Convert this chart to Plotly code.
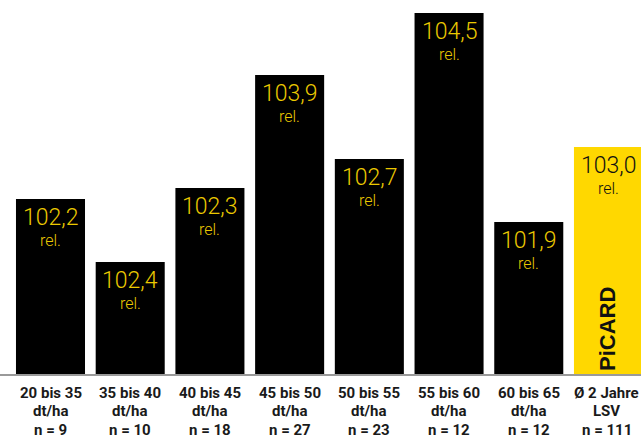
import plotly.graph_objects as go

range_labels = ["20 bis 35", "35 bis 40", "40 bis 45", "45 bis 50",
                "50 bis 55", "55 bis 60", "60 bis 65", "Ø 2 Jahre"]
unit_labels = ["dt/ha", "dt/ha", "dt/ha", "dt/ha", "dt/ha", "dt/ha", "dt/ha", "LSV"]
n_labels = ["n = 9", "n = 10", "n = 18", "n = 27", "n = 23", "n = 12", "n = 12", "n = 111"]
bar_heights = [175, 112, 186, 299, 215, 361, 152, 227]
value_labels = ["102,2", "102,4", "102,3", "103,9", "102,7", "104,5", "101,9", "103,0"]
unit_label = "rel."
brand_label = "PiCARD"

BLACK = "#000000"
YELLOW = "#FFD800"
TEXT_YELLOW = "#EBC900"
colors = [BLACK] * 7 + [YELLOW]
text_colors = [TEXT_YELLOW] * 7 + ["#111111"]

xs = list(range(len(range_labels)))
FONT = "Roboto, Liberation Sans, sans-serif"

fig = go.Figure(go.Bar(x=xs, y=bar_heights, marker=dict(color=colors, line=dict(width=0)),
                       width=0.866, hoverinfo="skip"))

for i, (h, v) in enumerate(zip(bar_heights, value_labels)):
    fig.add_annotation(x=i, y=h, xref="x", yref="y", text=v, showarrow=False,
                       yanchor="middle", yshift=-18.5,
                       font=dict(family=FONT, size=23, weight=300, color=text_colors[i]))
    fig.add_annotation(x=i, y=h, xref="x", yref="y", text=unit_label, showarrow=False,
                       yanchor="middle", yshift=-41,
                       font=dict(family=FONT, size=16, weight=300, color=text_colors[i]))
    for line, shift in ((range_labels[i], -18.5), (unit_labels[i], -37), (n_labels[i], -55.5)):
        fig.add_annotation(x=i, y=0, xref="x", yref="paper", text="<b>" + line + "</b>",
                           showarrow=False, yanchor="middle", yshift=shift,
                           xshift=(-1.5 if i == 7 else 0),
                           font=dict(family=FONT, size=15, color="#1a1a1a"))

fig.add_annotation(x=7, y=0, xref="x", yref="y", text=brand_label,
                   showarrow=False, textangle=-90, yanchor="middle", yshift=45, xshift=-1.5,
                   font=dict(family="Liberation Sans, sans-serif", size=22, weight=700, color="#111111"))

fig.update_layout(
    width=641, height=438,
    margin=dict(l=0, r=0, t=0, b=64),
    paper_bgcolor="white", plot_bgcolor="white",
    showlegend=False,
    xaxis=dict(range=[-0.6335, 7.408], showticklabels=False,
               showline=True, linecolor="#9a9a9a", linewidth=1.5, ticks="",
               showgrid=False, zeroline=False, fixedrange=True),
    yaxis=dict(range=[0, 374], visible=False, showgrid=False, zeroline=False, fixedrange=True),
)

fig.write_html("out.html")
